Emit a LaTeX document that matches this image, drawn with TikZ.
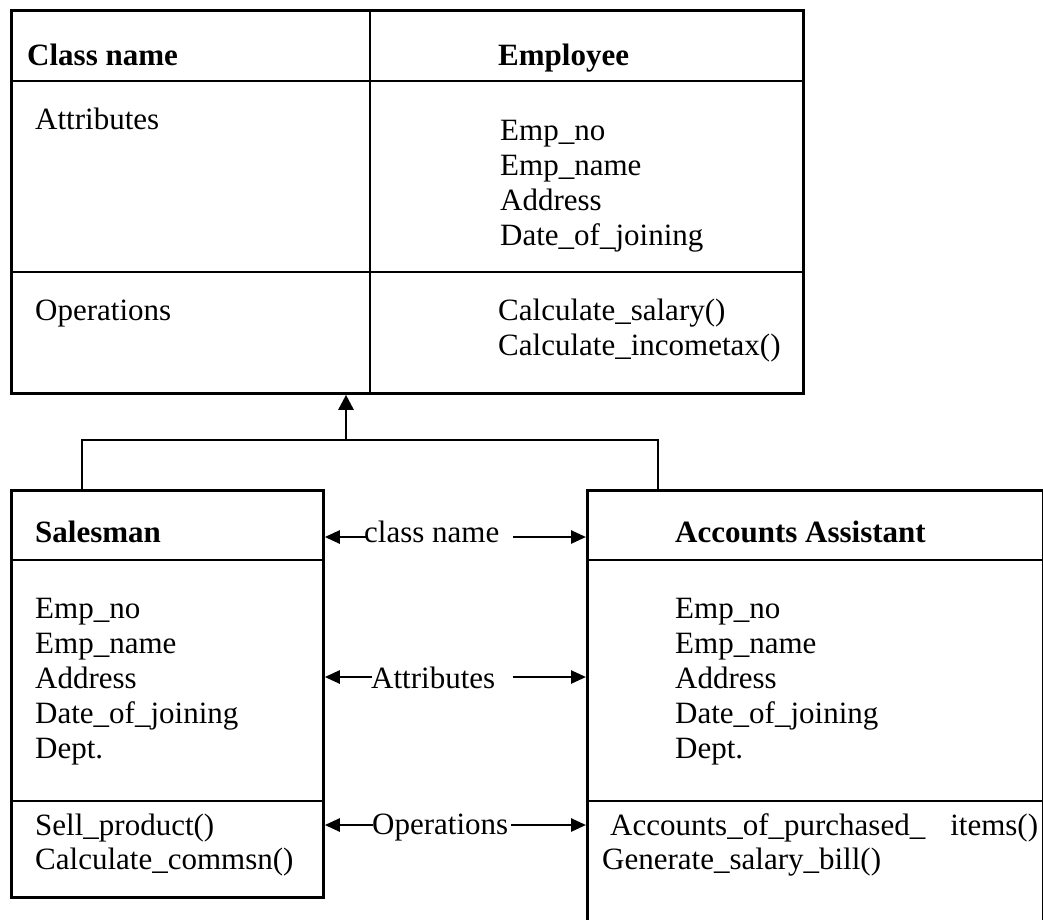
\documentclass[tikz,border=0pt]{standalone}
\usepackage{fontspec}
\setmainfont{Liberation Serif}
\usetikzlibrary{arrows.meta}
\begin{document}
\begin{tikzpicture}[x=1pt,y=-1pt,
  box/.style={draw, line width=2.8pt, inner sep=0pt, anchor=north west},
  sep/.style={line width=2.8pt},
  txt/.style={anchor=base west, inner sep=0pt, font=\fontsize{31}{35}\selectfont},
  btxt/.style={anchor=base west, inner sep=0pt, font=\fontsize{31}{35}\selectfont\bfseries},
  conn/.style={line width=2.6pt},
  arr/.style={line width=2.6pt, -{Triangle[length=15pt,width=13pt]}},
  inh/.style={line width=2.6pt, -{Triangle[length=15pt,width=15pt]}}
]
\clip (0,0) rectangle (1043,919);
\useasboundingbox (0,0) rectangle (1043,919);

% Employee class
\node[box, minimum width=792pt, minimum height=383pt] (emp) at (10,9) {};
\draw[sep] (10,81) -- (802,81);
\draw[sep] (10,272) -- (802,272);
\draw[sep] (370,9) -- (370,392);
\node[btxt] (cn) at (27,65) {Class name};
\node[btxt] (en) at (498,65) {Employee};
\node[txt] (ea) at (35,129) {Attributes};
\node[txt] (e1) at (500,140) {Emp\_no};
\node[txt] (e2) at (500,175) {Emp\_name};
\node[txt] (e3) at (500,210) {Address};
\node[txt] (e4) at (500,245) {Date\_of\_joining};
\node[txt] (eo) at (35,320) {Operations};
\node[txt] (e5) at (498,320) {Calculate\_salary()};
\node[txt] (e6) at (498,355) {Calculate\_incometax()};

% Salesman class
\node[box, minimum width=312pt, minimum height=407pt] (sal) at (10,489) {};
\draw[sep] (10,560) -- (322,560);
\draw[sep] (10,801) -- (322,801);
\node[btxt] (sn) at (35,542) {Salesman};
\node[txt] (s1) at (35,618) {Emp\_no};
\node[txt] (s2) at (35,653) {Emp\_name};
\node[txt] (s3) at (35,688) {Address};
\node[txt] (s4) at (35,723) {Date\_of\_joining};
\node[txt] (s5) at (35,758) {Dept.};
\node[txt] (s6) at (35,835) {Sell\_product()};
\node[txt] (s7) at (35,869) {Calculate\_commsn()};

% Accounts Assistant class
\node[box, minimum width=456pt, minimum height=460pt] (acc) at (586,489) {};
\draw[sep] (586,560) -- (1042,560);
\draw[sep] (586,801) -- (1042,801);
\node[btxt] (an) at (675,542) {Accounts Assistant};
\node[txt] (a1) at (675,618) {Emp\_no};
\node[txt] (a2) at (675,653) {Emp\_name};
\node[txt] (a3) at (675,688) {Address};
\node[txt] (a4) at (675,723) {Date\_of\_joining};
\node[txt] (a5) at (675,758) {Dept.};
\node[txt] (a6) at (610,835) {Accounts\_of\_purchased\_\hspace{25pt}items()};
\node[txt] (a7) at (602,869) {Generate\_salary\_bill()};

% Inheritance
\coordinate (jl) at (82,440);
\coordinate (jm) at (346,440);
\coordinate (jr) at (658,440);
\draw[conn] (jl |- sal.north) -- (jl) -- (jr) -- (jr |- acc.north);
\draw[inh] (jm) -- (jm |- emp.south);

% Middle labels
\node[txt] (mcn) at (364,542) {class name};
\node[txt] (mat) at (371,688) {Attributes};
\node[txt] (mop) at (372,834) {Operations};
\coordinate (cnl) at (368,537);
\coordinate (cnr) at (513,537);
\coordinate (atl) at (372,677);
\coordinate (atr) at (513,677);
\coordinate (opl) at (373,825);
\coordinate (opr) at (511,825);
\draw[arr] (cnl) -- (cnl -| sal.east);
\draw[arr] (cnr) -- (cnr -| acc.west);
\draw[arr] (atl) -- (atl -| sal.east);
\draw[arr] (atr) -- (atr -| acc.west);
\draw[arr] (opl) -- (opl -| sal.east);
\draw[arr] (opr) -- (opr -| acc.west);
\end{tikzpicture}
\end{document}
